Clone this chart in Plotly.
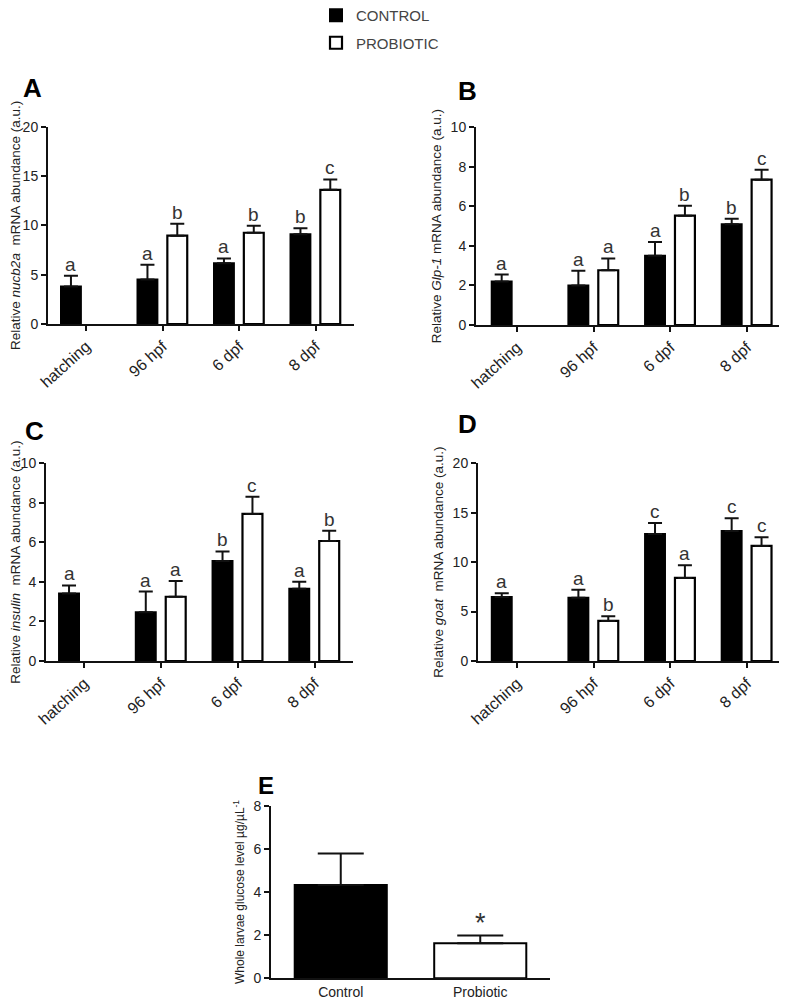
import plotly.graph_objects as go

# ---------------- data ----------------
stages = ["hatching", "96 hpf", "6 dpf", "8 dpf"]

nucb2a_control = [3.8, 4.5, 6.15, 9.1]
nucb2a_control_err = [1.1, 1.5, 0.5, 0.6]
nucb2a_probiotic = [None, 8.95, 9.25, 13.6]
nucb2a_probiotic_err = [0, 1.2, 0.7, 1.05]
nucb2a_letters_control = ["a", "a", "a", "b"]
nucb2a_letters_probiotic = ["", "b", "b", "c"]

glp1_control = [2.2, 2.0, 3.5, 5.1]
glp1_control_err = [0.35, 0.75, 0.7, 0.27]
glp1_probiotic = [None, 2.77, 5.53, 7.35]
glp1_probiotic_err = [0, 0.6, 0.5, 0.5]
glp1_letters_control = ["a", "a", "a", "b"]
glp1_letters_probiotic = ["", "a", "b", "c"]

insulin_control = [3.42, 2.46, 5.06, 3.66]
insulin_control_err = [0.4, 1.05, 0.48, 0.35]
insulin_probiotic = [None, 3.25, 7.44, 6.07]
insulin_probiotic_err = [0, 0.8, 0.87, 0.52]
insulin_letters_control = ["a", "a", "b", "a"]
insulin_letters_probiotic = ["", "a", "c", "b"]

goat_control = [6.48, 6.41, 12.85, 13.15]
goat_control_err = [0.37, 0.8, 1.1, 1.3]
goat_probiotic = [None, 4.05, 8.4, 11.64]
goat_probiotic_err = [0, 0.47, 1.28, 0.87]
goat_letters_control = ["a", "a", "c", "c"]
goat_letters_probiotic = ["", "b", "a", "c"]

glucose_groups = ["Control", "Probiotic"]
glucose_values = [4.32, 1.62]
glucose_err = [1.47, 0.36]
glucose_marks = ["", "*"]

# ---------------- style ----------------
FONT = "Liberation Sans, Arial, sans-serif"
PAGE_W, PAGE_H = 787, 999
OFF = 8  # default page body margin
FW, FH = PAGE_W - OFF, PAGE_H - OFF
BAR_W = 0.26
OFF_CONTROL = -0.33
OFF_PROBIOTIC = 0.06
LINE = "#111111"


def fx(px):
    return (px - OFF) / FW


def fy(py):
    return 1 - (py - OFF) / FH


def px_dom_x(a, b):
    return [fx(a), fx(b)]


def px_dom_y(top, bottom):
    return [fy(bottom), fy(top)]


fig = go.Figure()

panels = [
    dict(n=1, ctrl=nucb2a_control, ctrl_e=nucb2a_control_err, prob=nucb2a_probiotic,
         prob_e=nucb2a_probiotic_err, lc=nucb2a_letters_control, lp=nucb2a_letters_probiotic,
         ymax=20, dtick=5, xr=[-0.5, 3.5], dx=px_dom_x(48, 354), dy=px_dom_y(126.7, 324),
         title="Relative <i>nucb2a</i>  mRNA abundance (a.u.)", letter="A", lpos=(32, 88)),
    dict(n=2, ctrl=glp1_control, ctrl_e=glp1_control_err, prob=glp1_probiotic,
         prob_e=glp1_probiotic_err, lc=glp1_letters_control, lp=glp1_letters_probiotic,
         ymax=10, dtick=2, xr=[-0.535, 3.43], dx=px_dom_x(476, 780), dy=px_dom_y(127.3, 325),
         title="Relative <i>Glp-1</i> mRNA abundance (a.u.)", letter="B", lpos=(467, 91)),
    dict(n=3, ctrl=insulin_control, ctrl_e=insulin_control_err, prob=insulin_probiotic,
         prob_e=insulin_probiotic_err, lc=insulin_letters_control, lp=insulin_letters_probiotic,
         ymax=10, dtick=2, xr=[-0.5, 3.5], dx=px_dom_x(46, 353), dy=px_dom_y(463.3, 661),
         title="Relative <i>insulin</i>  mRNA abundance (a.u.)", letter="C", lpos=(34, 431)),
    dict(n=4, ctrl=goat_control, ctrl_e=goat_control_err, prob=goat_probiotic,
         prob_e=goat_probiotic_err, lc=goat_letters_control, lp=goat_letters_probiotic,
         ymax=20, dtick=5, xr=[-0.51, 3.47], dx=px_dom_x(478, 783), dy=px_dom_y(463.3, 661),
         title="Relative <i>goat</i>  mRNA abundance (a.u.)", letter="D", lpos=(467, 424)),
]

annotations = []

for p in panels:
    n = p["n"]
    xa = "x" if n == 1 else f"x{n}"
    ya = "y" if n == 1 else f"y{n}"
    fig.add_trace(go.Bar(
        x=stages, y=p["ctrl"], xaxis=xa, yaxis=ya, name="CONTROL",
        width=BAR_W, offset=OFF_CONTROL,
        marker=dict(color="black", line=dict(color="black", width=2)),
        error_y=dict(type="data", symmetric=False, array=p["ctrl_e"],
                     arrayminus=[0] * 4, color=LINE, thickness=2, width=7),
        showlegend=(n == 1), legendgroup="c", legendrank=1,
    ))
    fig.add_trace(go.Bar(
        x=stages, y=p["prob"], xaxis=xa, yaxis=ya, name="PROBIOTIC",
        width=BAR_W, offset=OFF_PROBIOTIC,
        marker=dict(color="white", line=dict(color="black", width=2.2)),
        error_y=dict(type="data", symmetric=False, array=p["prob_e"],
                     arrayminus=[0] * 4, color=LINE, thickness=2, width=7),
        showlegend=(n == 1), legendgroup="p", legendrank=2,
    ))
    sfx = "" if n == 1 else str(n)
    fig.update_layout(**{
        f"xaxis{sfx}": dict(domain=p["dx"], anchor=ya, range=p["xr"], type="category",
                            automargin=False,
                            showline=True, linecolor=LINE, linewidth=2, ticks="outside",
                            ticklen=5, tickwidth=2, tickcolor=LINE, tickangle=-42,
                            tickfont=dict(family=FONT, size=16, color="#222"),
                            showgrid=False, zeroline=False),
        f"yaxis{sfx}": dict(domain=p["dy"], anchor=xa, range=[0, p["ymax"]], dtick=p["dtick"],
                            automargin=False,
                            showline=True, linecolor=LINE, linewidth=2, ticks="outside",
                            ticklen=5, tickwidth=2, tickcolor=LINE,
                            tickfont=dict(family=FONT, size=14, color="#222"),
                            showgrid=False, zeroline=False,
                            title=dict(text=p["title"], standoff=6,
                                       font=dict(family=FONT, size=13.5, color="#222"))),
    })
    for i in range(4):
        if p["ctrl"][i] is not None and p["lc"][i]:
            annotations.append(dict(x=i + OFF_CONTROL + BAR_W / 2, y=p["ctrl"][i] + p["ctrl_e"][i],
                                    xref=xa, yref=ya, text=p["lc"][i], showarrow=False,
                                    yanchor="bottom", yshift=-1,
                                    font=dict(family=FONT, size=19, color="#333")))
        if p["prob"][i] is not None and p["lp"][i]:
            annotations.append(dict(x=i + OFF_PROBIOTIC + BAR_W / 2, y=p["prob"][i] + p["prob_e"][i],
                                    xref=xa, yref=ya, text=p["lp"][i], showarrow=False,
                                    yanchor="bottom", yshift=-1,
                                    font=dict(family=FONT, size=19, color="#333")))
    annotations.append(dict(x=fx(p["lpos"][0]), y=fy(p["lpos"][1]), xref="paper", yref="paper",
                            text=f"<b>{p['letter']}</b>", showarrow=False, xanchor="center",
                            yanchor="middle", font=dict(family=FONT, size=26, color="black")))

# Panel E
fig.add_trace(go.Bar(
    x=glucose_groups, y=glucose_values, xaxis="x5", yaxis="y5", width=0.66, offset=-0.33,
    marker=dict(color=["black", "white"], line=dict(color="black", width=2)),
    error_y=dict(type="data", symmetric=False, array=glucose_err, arrayminus=[0, 0],
                 color=LINE, thickness=2, width=23),
    showlegend=False,
))
fig.update_layout(
    xaxis5=dict(domain=px_dom_x(271, 550), anchor="y5", range=[-0.5, 1.5], type="category",
                automargin=False,
                showline=True, linecolor=LINE, linewidth=2, ticks="",
                tickfont=dict(family=FONT, size=14, color="#222"), showgrid=False, zeroline=False),
    yaxis5=dict(domain=px_dom_y(805.7, 978.3), anchor="x5", range=[0, 8], dtick=2,
                automargin=False,
                showline=True, linecolor=LINE, linewidth=2, ticks="outside", ticklen=5,
                tickwidth=2, tickcolor=LINE, tickfont=dict(family=FONT, size=14, color="#222"),
                showgrid=False, zeroline=False,
                title=dict(text="Whole larvae glucose level µg/µL<sup>-1</sup>", standoff=6,
                           font=dict(family=FONT, size=12, color="#222"))),
)
for i, m in enumerate(glucose_marks):
    if m:
        annotations.append(dict(x=i, y=glucose_values[i] + glucose_err[i], xref="x5", yref="y5",
                                text=m, showarrow=False, yanchor="bottom", yshift=-4,
                                font=dict(family=FONT, size=27, color="#333")))
annotations.append(dict(x=fx(266), y=fy(785), xref="paper", yref="paper", text="<b>E</b>",
                        showarrow=False, xanchor="center", yanchor="middle",
                        font=dict(family=FONT, size=24, color="black")))

fig.update_layout(
    width=FW, height=FH,
    margin=dict(l=0, r=0, t=0, b=0, autoexpand=False),
    paper_bgcolor="white", plot_bgcolor="white",
    barmode="group",
    annotations=annotations,
    showlegend=True,
    legend=dict(x=fx(316), y=fy(-1), xanchor="left", yanchor="top", traceorder="grouped",
                tracegroupgap=5, font=dict(family=FONT, size=15, color="#444"),
                bgcolor="rgba(0,0,0,0)"),
)

fig.write_html("out.html")
